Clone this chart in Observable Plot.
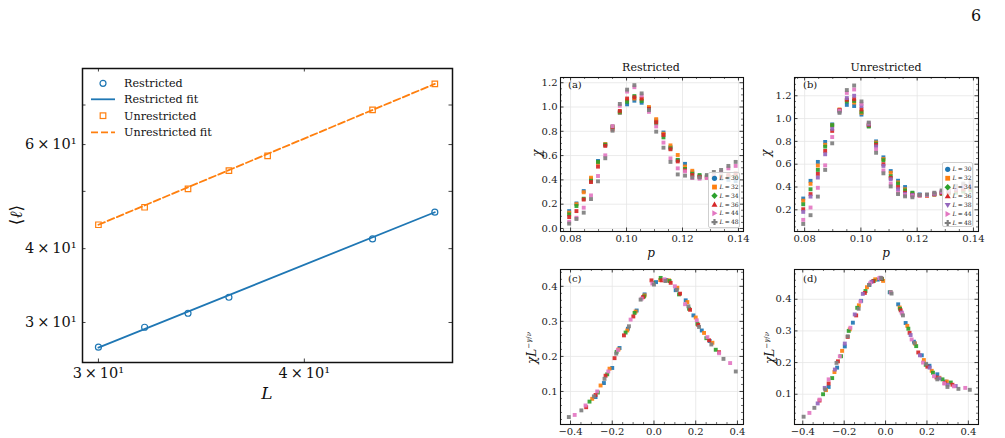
<!DOCTYPE html>
<html><head><meta charset="utf-8">
<script src="https://cdn.jsdelivr.net/npm/d3@7"></script>
<script src="https://cdn.jsdelivr.net/npm/@observablehq/plot@0.6"></script>
<style>
body{margin:0;background:#fff;}
#root{position:relative;width:1005px;height:438px;overflow:hidden;font-family:"DejaVu Serif",serif;color:#111;}
.abs{position:absolute;white-space:nowrap;line-height:1;}
</style></head><body><div id="root"></div>
<script>
// ---------- Left panel data ----------
const restrictedL = [30, 32, 34, 36, 44, 48];
const restrictedEll = [27.25, 29.45, 31.1, 33.1, 41.55, 46.1];
const unrestrictedL = [30, 32, 34, 36, 38, 44, 48];
const unrestrictedEll = [43.9, 47.0, 50.5, 54.2, 57.4, 68.7, 76.0];
const fitL = [30, 48];
const restrictedFitEll = [27.2, 46.1];
const unrestrictedFitEll = [43.9, 76.0];
const leftXTicks = [30, 40];
const leftXTickLabels = ["3\u2009×\u200910¹", "4\u2009×\u200910¹"];
const leftYTicks = [30, 40, 60];
const leftYTickLabels = ["3\u2009×\u200910¹", "4\u2009×\u200910¹", "6\u2009×\u200910¹"];
const leftYMinor = [50, 70];

// ---------- Right panels: chi vs p ----------
const pValues = [0.0795,0.0821,0.0847,0.0873,0.0898,0.0924,0.0950,0.0976,0.1002,0.1028,0.1054,0.1080,
                 0.1106,0.1132,0.1157,0.1183,0.1209,0.1235,0.1261,0.1287,0.1312,0.1338,0.1364,0.1390];
const seriesL = [30, 32, 34, 36, 38, 44, 48];
const seriesColors = ["#1f77b4","#ff7f0e","#2ca02c","#d62728","#9467bd","#e377c2","#7f7f7f"];
const seriesShapes = ["circle","square","diamond","triUp","triDown","triRight","plus"];

const chiR30 = [.143,.206,.308,.405,.556,.69,.84,.952,1.022,1.052,1.035,.99,.89,.79,.67,.562,.532,.462,.43,.425,.42,.41,.40,.39];
const chiR32 = [.13,.20,.298,.418,.54,.695,.838,.955,1.055,1.07,1.065,1.0,.90,.78,.684,.605,.51,.475,.425,.42,.425,.425,.43,.44];
const chiR34 = [.116,.185,.245,.392,.548,.69,.832,.96,1.043,1.09,1.05,.98,.866,.75,.66,.565,.49,.45,.44,.43,.43,.43,.43,.43];
const chiR36 = [.094,.143,.238,.382,.509,.68,.815,.968,1.07,1.08,1.07,.985,.875,.77,.652,.552,.478,.44,.425,.42,.42,.425,.44,.45];
const chiR44 = [.055,.088,.171,.272,.432,.602,.842,1.01,1.127,1.163,1.095,.96,.84,.707,.577,.495,.47,.415,.41,.415,.45,.465,.495,.515];
const chiR48 = [.04,.078,.13,.242,.388,.578,.805,1.025,1.143,1.18,1.112,.975,.797,.665,.548,.445,.435,.42,.42,.44,.465,.482,.515,.548];

const chiU30 = [.299,.454,.62,.795,.949,1.07,1.12,1.11,1.035,.935,.80,.66,.54,.455,.40,.345,.335,.33,.34,.35,.355,.36,.37,.375];
const chiU32 = [.28,.428,.588,.77,.94,1.08,1.16,1.14,1.05,.94,.79,.645,.525,.44,.38,.34,.33,.325,.335,.345,.355,.36,.37,.38];
const chiU34 = [.249,.38,.55,.754,.942,1.07,1.15,1.155,1.06,.93,.78,.635,.495,.43,.37,.35,.33,.33,.335,.34,.345,.35,.36,.37];
const chiU36 = [.205,.338,.515,.716,.892,1.075,1.165,1.17,1.08,.945,.77,.60,.48,.40,.35,.33,.325,.325,.335,.345,.355,.37,.38,.39];
const chiU38 = [.182,.316,.483,.687,.91,1.06,1.18,1.20,1.11,.95,.755,.585,.468,.38,.34,.33,.33,.33,.34,.355,.37,.385,.40,.41];
const chiU44 = [.112,.22,.393,.59,.838,1.07,1.225,1.255,1.13,.96,.73,.545,.43,.35,.33,.32,.325,.33,.345,.36,.38,.40,.42,.43];
const chiU48 = [.076,.153,.316,.55,.783,1.05,1.25,1.29,1.15,.965,.70,.52,.405,.338,.318,.31,.33,.335,.35,.37,.39,.41,.43,.445];

// ---------- Collapse panels (c), (d): [x, chi L^-gamma/nu] ----------
const cL30 = [[-0.28,0.084],[-0.24,0.124],[-0.20,0.167],[-0.165,0.224],[-0.125,0.279],[-0.083,0.331],[-0.045,0.377],[0.01,0.412],[0.06,0.418],[0.104,0.389],[0.152,0.36],[0.189,0.317],[0.229,0.274],[0.267,0.244]];
const cL32 = [[-0.296,0.079],[-0.256,0.117],[-0.213,0.165],[-0.17,0.22],[-0.128,0.274],[-0.088,0.328],[-0.045,0.374],[0.03,0.418],[0.072,0.417],[0.112,0.396],[0.16,0.355],[0.2,0.311],[0.24,0.267],[0.28,0.239]];
const cL34 = [[-0.309,0.071],[-0.269,0.097],[-0.224,0.149],[-0.179,0.213],[-0.136,0.268],[-0.093,0.324],[-0.048,0.371],[-0.005,0.41],[0.032,0.424],[0.075,0.415],[0.12,0.377],[0.168,0.336],[0.208,0.293],[0.251,0.252],[0.296,0.219]];
const cL36 = [[-0.325,0.055],[-0.28,0.09],[-0.232,0.145],[-0.189,0.195],[-0.144,0.26],[-0.099,0.314],[-0.053,0.369],[-0.012,0.417],[0.037,0.417],[0.08,0.41],[0.125,0.379],[0.173,0.333],[0.212,0.29],[0.264,0.246],[0.312,0.212]];
const cL44 = [[-0.38,0.033],[-0.328,0.06],[-0.272,0.1],[-0.219,0.157],[-0.173,0.218],[-0.112,0.305],[-0.059,0.365],[-0.008,0.408],[0.05,0.42],[0.1,0.4],[0.149,0.349],[0.205,0.303],[0.256,0.255],[0.312,0.209],[0.365,0.181]];
const cL48 = [[-0.408,0.027],[-0.348,0.046],[-0.288,0.086],[-0.237,0.136],[-0.181,0.208],[-0.12,0.286],[-0.064,0.362],[0.0,0.405],[0.055,0.415],[0.11,0.39],[0.165,0.343],[0.216,0.284],[0.275,0.234],[0.333,0.193],[0.392,0.157]];

const dL30 = [[-0.275,0.123],[-0.234,0.184],[-0.197,0.251],[-0.158,0.326],[-0.118,0.395],[-0.078,0.445],[-0.038,0.462],[0.02,0.422],[0.061,0.384],[0.097,0.325],[0.137,0.266],[0.175,0.223],[0.212,0.19],[0.25,0.163],[0.29,0.14]];
const dL32 = [[-0.288,0.113],[-0.247,0.17],[-0.21,0.237],[-0.173,0.305],[-0.129,0.381],[-0.09,0.438],[-0.05,0.463],[-0.012,0.458],[0.068,0.374],[0.105,0.316],[0.142,0.26],[0.185,0.208],[0.223,0.174],[0.26,0.152],[0.296,0.14]];
const dL34 = [[-0.302,0.1],[-0.258,0.151],[-0.215,0.22],[-0.178,0.3],[-0.137,0.373],[-0.097,0.426],[-0.057,0.458],[-0.017,0.464],[0.024,0.423],[0.07,0.37],[0.11,0.307],[0.148,0.252],[0.194,0.193],[0.229,0.168],[0.275,0.147],[0.315,0.137]];
const dL36 = [[-0.319,0.08],[-0.275,0.134],[-0.23,0.204],[-0.183,0.281],[-0.142,0.349],[-0.1,0.42],[-0.06,0.457],[-0.02,0.465],[0.073,0.365],[0.116,0.294],[0.158,0.232],[0.202,0.187],[0.246,0.153],[0.286,0.135],[0.323,0.13]];
const dL38 = [[-0.328,0.071],[-0.294,0.12],[-0.245,0.178],[-0.197,0.26],[-0.149,0.352],[-0.11,0.417],[-0.068,0.455],[-0.025,0.468],[0.078,0.358],[0.121,0.287],[0.166,0.223],[0.213,0.184],[0.26,0.15],[0.3,0.13],[0.339,0.126]];
const dL44 = [[-0.368,0.041],[-0.319,0.083],[-0.275,0.147],[-0.221,0.22],[-0.17,0.31],[-0.121,0.393],[-0.075,0.45],[-0.03,0.467],[0.025,0.422],[0.08,0.355],[0.126,0.273],[0.181,0.2],[0.234,0.157],[0.283,0.134],[0.33,0.125],[0.385,0.12]];
const dL48 = [[-0.396,0.029],[-0.344,0.057],[-0.292,0.115],[-0.237,0.199],[-0.183,0.283],[-0.13,0.37],[-0.08,0.445],[-0.021,0.467],[0.029,0.418],[0.084,0.349],[0.14,0.262],[0.196,0.196],[0.25,0.147],[0.299,0.123],[0.352,0.117],[0.407,0.114]];

// ---------- tick arrays ----------
const abXTicks = [0.08, 0.10, 0.12, 0.14];
const aYTicks = [0, 0.2, 0.4, 0.6, 0.8, 1.0, 1.2];
const bYTicks = [0.2, 0.4, 0.6, 0.8, 1.0, 1.2];
const cdXTicks = [-0.4, -0.2, 0, 0.2, 0.4];
const cdYTicks = [0.1, 0.2, 0.3, 0.4];

const root = document.getElementById("root");
const blue = "#1f77b4", orange = "#ff7f0e";

function place(el, left, top) {
  el.style.position = "absolute";
  el.style.left = left + "px";
  el.style.top = top + "px";
  root.appendChild(el);
}
function txt(html, x, y, {size = 11, anchor = "middle", rotate = 0, italic = false} = {}) {
  const d = document.createElement("div");
  d.className = "abs";
  d.innerHTML = html;
  d.style.fontSize = size + "px";
  if (italic) d.style.fontStyle = "italic";
  const tx = anchor === "middle" ? "-50%" : anchor === "start" ? "0%" : "-100%";
  d.style.left = x + "px";
  d.style.top = y + "px";
  d.style.transform = `translate(${tx},-50%)` + (rotate ? ` rotate(${rotate}deg)` : "");
  root.appendChild(d);
}
function inTicks(vals, fw, fh, len, axis, stroke = "#111", sw = 0.8) {
  if (axis === "x") return [
    Plot.tickX(vals, {x: d => d, insetTop: fh - len, stroke, strokeWidth: sw}),
    Plot.tickX(vals, {x: d => d, insetBottom: fh - len, stroke, strokeWidth: sw})
  ];
  return [
    Plot.tickY(vals, {y: d => d, insetRight: fw - len, stroke, strokeWidth: sw}),
    Plot.tickY(vals, {y: d => d, insetLeft: fw - len, stroke, strokeWidth: sw})
  ];
}

// ---------- Left panel ----------
{
  const W = 500, H = 438, ml = 82, mr = 48, mt = 68, mb = 76;
  const fw = W - ml - mr, fh = H - mt - mb;
  const restricted = restrictedL.map((L, i) => ({L, ell: restrictedEll[i]}));
  const unrestricted = unrestrictedL.map((L, i) => ({L, ell: unrestrictedEll[i]}));
  const rFit = fitL.map((L, i) => ({L, ell: restrictedFitEll[i]}));
  const uFit = fitL.map((L, i) => ({L, ell: unrestrictedFitEll[i]}));
  const plot = Plot.plot({
    width: W, height: H, marginLeft: ml, marginRight: mr, marginTop: mt, marginBottom: mb,
    style: {fontFamily: "DejaVu Serif", fontSize: "14.5px", background: "transparent", color: "#111", overflow: "visible"},
    x: {type: "log", domain: [29.34, 49.2], ticks: leftXTicks, tickFormat: d => leftXTickLabels[leftXTicks.indexOf(d)], tickSize: 0, tickPadding: 5, label: null},
    y: {type: "log", domain: [25.67, 80.7], ticks: leftYTicks, tickFormat: d => leftYTickLabels[leftYTicks.indexOf(d)], tickSize: 0, tickPadding: 6, label: null},
    marks: [
      Plot.dot(restricted, {x: "L", y: "ell", symbol: "circle", r: 3, stroke: blue, fill: "none", strokeWidth: 1.2}),
      Plot.dot(unrestricted, {x: "L", y: "ell", symbol: "square", r: 3.1, stroke: orange, fill: "none", strokeWidth: 1.2}),
      Plot.line(rFit, {x: "L", y: "ell", stroke: blue, strokeWidth: 1.8}),
      Plot.line(uFit, {x: "L", y: "ell", stroke: orange, strokeWidth: 1.8, strokeDasharray: "7,3"}),
      ...inTicks(leftXTicks, fw, fh, 3.5, "x"),
      ...inTicks(leftYTicks.concat(leftYMinor), fw, fh, 3.5, "y"),
      Plot.frame({stroke: "#111", strokeWidth: 1.5})
    ]
  });
  place(plot, 0, 0);
  // legend
  const lg = document.createElement("div");
  lg.innerHTML = `<svg width="200" height="80" style="overflow:visible" font-family="DejaVu Serif" font-size="11.2">
    <circle cx="18" cy="11.3" r="3" fill="none" stroke="${blue}" stroke-width="1.2"/>
    <text x="39" y="11.3" dy="0.35em" fill="#111">Restricted</text>
    <line x1="6" x2="30" y1="27.3" y2="27.3" stroke="${blue}" stroke-width="1.8"/>
    <text x="39" y="27.3" dy="0.35em" fill="#111">Restricted fit</text>
    <rect x="15.2" y="40.9" width="5.6" height="5.6" fill="none" stroke="${orange}" stroke-width="1.2"/>
    <text x="39" y="43.7" dy="0.35em" fill="#111">Unrestricted</text>
    <line x1="6" x2="30" y1="60.3" y2="60.3" stroke="${orange}" stroke-width="1.8" stroke-dasharray="7,3"/>
    <text x="39" y="60.3" dy="0.35em" fill="#111">Unrestricted fit</text>
  </svg>`;
  place(lg, 85, 72);
  txt("⟨<i>ℓ</i>⟩", 16, 215, {size: 17, rotate: -90});
  txt("L", 267, 393, {size: 17, italic: true});
}

// ---------- Right panel builder ----------
function buildPanel({data, left, top, W, H, ml, mr, mt, mb, xDomain, yDomain, xTicks, yTicks, xMinor, yMinor, xFmt, yFmt, Ls}) {
  const fw = W - ml - mr, fh = H - mt - mb;
  const colors = Ls.map(L => seriesColors[seriesL.indexOf(L)]);
  const plot = Plot.plot({
    width: W, height: H, marginLeft: ml, marginRight: mr, marginTop: mt, marginBottom: mb,
    style: {fontFamily: "DejaVu Serif", fontSize: "10px", background: "transparent", color: "#222", overflow: "visible"},
    x: {domain: xDomain, ticks: xTicks, tickFormat: xFmt, tickSize: 0, tickPadding: 3, label: null},
    y: {domain: yDomain, ticks: yTicks, tickFormat: yFmt, tickSize: 0, tickPadding: 3, label: null},
    color: {type: "ordinal", domain: Ls, range: colors},
    marks: [
      Plot.ruleX(xTicks, {stroke: "#e6e6e6", strokeWidth: 0.8}),
      Plot.ruleY(yTicks, {stroke: "#e6e6e6", strokeWidth: 0.8}),
      Plot.dot(data, {x: "x", y: "y", fill: "L", symbol: "square", r: 2.2, fillOpacity: 0.92}),
      ...inTicks(xTicks, fw, fh, 3.5, "x"),
      ...inTicks(yTicks, fw, fh, 3.5, "y"),
      ...inTicks(xMinor, fw, fh, 2, "x", "#111", 0.6),
      ...inTicks(yMinor, fw, fh, 2, "y", "#111", 0.6),
      Plot.frame({stroke: "#111", strokeWidth: 1.1})
    ]
  });
  place(plot, left, top);
}
function shapePath(s) {
  switch (s) {
    case "circle": return `<circle r="2.6"/>`;
    case "square": return `<rect x="-2.4" y="-2.4" width="4.8" height="4.8"/>`;
    case "diamond": return `<path d="M0,-3.2L3.2,0L0,3.2L-3.2,0Z"/>`;
    case "triUp": return `<path d="M0,-3L3,2.2L-3,2.2Z"/>`;
    case "triDown": return `<path d="M0,3L3,-2.2L-3,-2.2Z"/>`;
    case "triRight": return `<path d="M3,0L-2.2,-3L-2.2,3Z"/>`;
    case "plus": return `<path d="M-1.1,-3H1.1V-1.1H3V1.1H1.1V3H-1.1V1.1H-3V-1.1H-1.1Z"/>`;
  }
}
function chiLegend(Ls, left, top, w, h, y0, step, mx, tx) {
  const d = document.createElement("div");
  d.style.width = w + "px"; d.style.height = h + "px";
  d.style.background = "rgba(255,255,255,0.82)";
  d.style.border = "0.8px solid #cfcfcf";
  d.style.borderRadius = "2px";
  d.style.boxSizing = "border-box";
  let s = `<svg width="${w}" height="${h}" style="position:absolute;left:0;top:0" font-family="DejaVu Serif" font-size="6">`;
  Ls.forEach((L, i) => {
    const k = seriesL.indexOf(L);
    const y = y0 + i * step;
    s += `<g transform="translate(${mx},${y})" fill="${seriesColors[k]}">${shapePath(seriesShapes[k])}</g>`;
    s += `<text x="${tx}" y="${y}" dy="0.35em" fill="#222"><tspan font-style="italic">L</tspan>\u2009=\u2009${L}</text>`;
  });
  s += `</svg>`;
  d.innerHTML = s;
  place(d, left, top);
}

const LsA = [30, 32, 34, 36, 44, 48];
const LsB = [30, 32, 34, 36, 38, 44, 48];
const chiA = [chiR30, chiR32, chiR34, chiR36, chiR44, chiR48];
const chiB = [chiU30, chiU32, chiU34, chiU36, chiU38, chiU44, chiU48];
const dataA = LsA.flatMap((L, k) => pValues.map((p, i) => ({x: p, y: chiA[k][i], L})));
const dataB = LsB.flatMap((L, k) => pValues.map((p, i) => ({x: p, y: chiB[k][i], L})));
const collC = [cL30, cL32, cL34, cL36, cL44, cL48];
const collD = [dL30, dL32, dL34, dL36, dL38, dL44, dL48];
const dataC = LsA.flatMap((L, k) => collC[k].map(([x, y]) => ({x, y, L})));
const dataD = LsB.flatMap((L, k) => collD[k].map(([x, y]) => ({x, y, L})));

const pMinor = [0.0775, 0.085, 0.09, 0.095, 0.105, 0.11, 0.115, 0.125, 0.13, 0.135];
const f2 = d3.format(".2f"), f1 = d3.format(".1f");

buildPanel({data: dataA, left: 505, top: 55, W: 245, H: 210, ml: 55, mr: 7, mt: 22, mb: 34,
  xDomain: [0.0764, 0.1418], yDomain: [-0.025, 1.243], xTicks: abXTicks, yTicks: aYTicks,
  xMinor: pMinor, yMinor: d3.range(0.05, 1.24, 0.05).filter(v => Math.abs(v / 0.2 - Math.round(v / 0.2)) > 0.01),
  xFmt: f2, yFmt: f1, Ls: LsA});
buildPanel({data: dataB, left: 750, top: 55, W: 255, H: 210, ml: 44, mr: 27, mt: 22, mb: 34,
  xDomain: [0.0764, 0.1418], yDomain: [0.01, 1.36], xTicks: abXTicks, yTicks: bYTicks,
  xMinor: pMinor, yMinor: d3.range(0.05, 1.36, 0.05).filter(v => Math.abs(v / 0.2 - Math.round(v / 0.2)) > 0.01),
  xFmt: f2, yFmt: f1, Ls: LsB});
buildPanel({data: dataC, left: 505, top: 262, W: 245, H: 176, ml: 55, mr: 7, mt: 7, mb: 14,
  xDomain: [-0.448, 0.429], yDomain: [0.0057, 0.448], xTicks: cdXTicks, yTicks: cdYTicks,
  xMinor: [-0.35, -0.3, -0.25, -0.15, -0.1, -0.05, 0.05, 0.1, 0.15, 0.25, 0.3, 0.35],
  yMinor: [0.02, 0.04, 0.06, 0.08, 0.12, 0.14, 0.16, 0.18, 0.22, 0.24, 0.26, 0.28, 0.32, 0.34, 0.36, 0.38, 0.42, 0.44],
  xFmt: f1, yFmt: f1, Ls: LsA});
buildPanel({data: dataD, left: 750, top: 262, W: 255, H: 176, ml: 44, mr: 27, mt: 7, mb: 14,
  xDomain: [-0.44, 0.449], yDomain: [0.0044, 0.494], xTicks: cdXTicks, yTicks: cdYTicks,
  xMinor: [-0.35, -0.3, -0.25, -0.15, -0.1, -0.05, 0.05, 0.1, 0.15, 0.25, 0.3, 0.35],
  yMinor: [0.02, 0.04, 0.06, 0.08, 0.12, 0.14, 0.16, 0.18, 0.22, 0.24, 0.26, 0.28, 0.32, 0.34, 0.36, 0.38, 0.42, 0.44, 0.46, 0.48],
  xFmt: f1, yFmt: f1, Ls: LsB});

chiLegend(LsA, 708, 172, 32, 56, 5.3, 8.75, 5.5, 10.5);
chiLegend(LsB, 942, 162, 31, 65, 6.3, 8.95, 4.7, 9.5);

// ---------- Text ----------
txt("6", 976, 16, {size: 16});
txt("Restricted", 651, 67, {size: 11});
txt("Unrestricted", 886, 67, {size: 11});
txt("(a)", 568, 85, {size: 10, anchor: "start"});
txt("(b)", 803, 85, {size: 10, anchor: "start"});
txt("(c)", 568, 279, {size: 10, anchor: "start"});
txt("(d)", 803, 279, {size: 10, anchor: "start"});
txt("<i>χ</i>", 537, 153, {size: 12, rotate: -90});
txt("<i>χ</i>", 766, 153, {size: 12, rotate: -90});
txt("<i>p</i>", 651, 253, {size: 12});
txt("<i>p</i>", 886, 253, {size: 12});
txt("<i>χL</i><sup style='font-size:7px'>−<i>γ</i>/<i>ν</i></sup>", 532, 348, {size: 12, rotate: -90});
txt("<i>χL</i><sup style='font-size:7px'>−<i>γ</i>/<i>ν</i></sup>", 770, 348, {size: 12, rotate: -90});
</script></body></html>
